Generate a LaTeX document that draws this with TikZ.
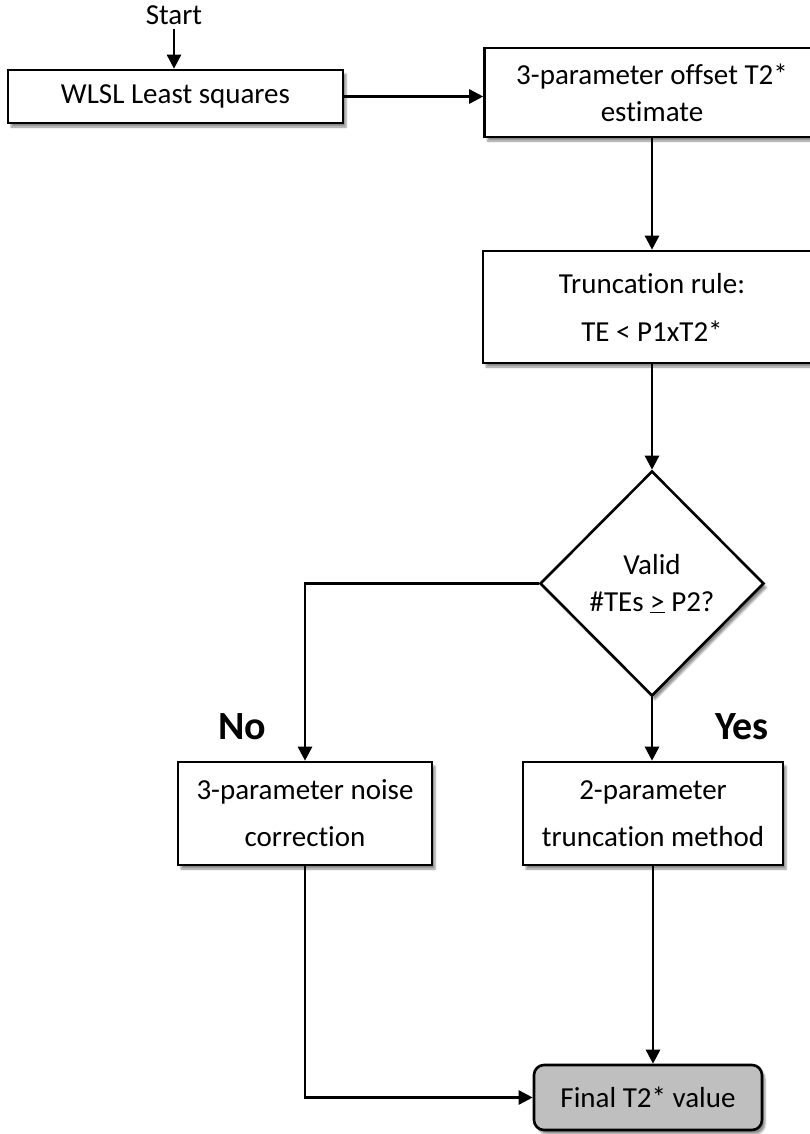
\documentclass[tikz,border=0pt]{standalone}
\usepackage{fontspec}
\setmainfont[Ligatures=NoCommon]{Carlito}
\usetikzlibrary{arrows.meta,shapes.geometric,shadows.blur}

\begin{document}
\begin{tikzpicture}[x=1pt, y=-1pt, line width=2.6pt,
    >={Triangle[length=14pt,width=14pt]},
    font=\fontsize{29}{37}\selectfont,
    shade/.style={blur shadow={shadow xshift=3pt, shadow yshift=-4pt, shadow opacity=45}},
    box/.style={draw, fill=white, align=center, inner sep=0pt, shade},
    decision/.style={diamond, draw, fill=white, align=center, inner sep=0pt,
        minimum width=224pt, minimum height=225pt, shade},
    result/.style={box, rounded corners=10pt, fill=finalgray},
    answer/.style={font=\fontsize{40}{44}\selectfont\bfseries}]
    \definecolor{finalgray}{HTML}{BFBFBF}
    \useasboundingbox (0,0) rectangle (809,1134);

    \node (start) at (174,15) {Start};
    \node[box, minimum width=335pt, minimum height=53pt] (wlsl) at (175.5,96.5) {WLSL Least squares};
    \node[box, minimum width=335pt, minimum height=89pt] (offset) at (652,92.5) {3-parameter offset T2*\\estimate};
    \node[box, minimum width=338pt, minimum height=112pt] (trunc) at (652,307) {Truncation rule:\\[11pt]TE < P1xT2*};
    \node[decision] (valid) at (652,583.5) {Valid\\\#TEs \underline{>} P2?};
    \node[answer] (no) at (242,727) {No};
    \node[answer] (yes) at (742,727) {Yes};
    \node[box, minimum width=254pt, minimum height=103pt] (noise) at (305,813.5) {3-parameter noise\\[10pt]correction};
    \node[box, minimum width=260pt, minimum height=103pt] (truncm) at (653,813.5) {2-parameter\\[10pt]truncation method};
    \node[result, minimum width=228pt, minimum height=65pt] (final) at (648,1097.5) {Final T2* value};

    \draw[->] (start.south) -- (start.south |- wlsl.north);
    \draw[->] (wlsl.east) -- (wlsl.east -| offset.west);
    \draw[->] (offset.south) -- (trunc.north);
    \draw[->] (trunc.south) -- (valid.north);
    \draw[->] (valid.west) -| (noise.north);
    \draw[->] (valid.south) -- (valid.south |- truncm.north);
    \draw[->] (truncm.south) -- (truncm.south |- final.north);
    \draw[->] (noise.south) |- (final.west);
\end{tikzpicture}
\end{document}
